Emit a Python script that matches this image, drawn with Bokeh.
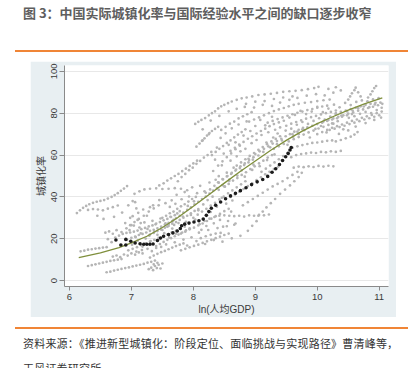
from bokeh.plotting import figure
from bokeh.models import Div
from bokeh.layouts import column
from bokeh.embed import file_html
from bokeh.resources import INLINE

# ---------------- data ----------------
x_ticks = [6, 7, 8, 9, 10, 11]
y_ticks = [0, 20, 40, 60, 80, 100]

# fitted international curve
fit_x = [6.15, 6.5, 6.8, 7.0, 7.25, 7.5, 7.75, 8.0, 8.25, 8.5, 8.75, 9.0, 9.25,
         9.5, 9.75, 10.0, 10.25, 10.5, 10.75, 11.05]
fit_y = [11.0, 13.3, 15.8, 18.0, 21.2, 25.4, 30.2, 35.5, 41.0, 46.6, 52.0, 57.2,
         62.3, 67.0, 71.3, 75.0, 78.3, 81.5, 84.3, 87.3]

# China
china_x = [6.75, 6.83, 6.91, 6.91, 6.99, 7.06, 7.14, 7.20, 7.25, 7.30, 7.35, 7.42,
           7.47, 7.52, 7.60, 7.67, 7.74, 7.79, 7.81, 7.86, 7.93, 8.01, 8.09, 8.16,
           8.21, 8.25, 8.29, 8.36, 8.44, 8.52, 8.60, 8.68, 8.76, 8.85, 8.94, 9.03,
           9.12, 9.20, 9.27, 9.33, 9.39, 9.44, 9.49, 9.53, 9.56, 9.58]
china_y = [19.4, 17.0, 19.7, 17.0, 18.8, 18.0, 17.6, 17.4, 17.4, 17.4, 17.5, 19.2,
           20.4, 21.2, 22.0, 22.8, 23.7, 24.9, 26.2, 27.0, 27.5, 28.0, 28.6, 29.4,
           31.2, 33.0, 34.6, 36.0, 37.6, 39.1, 40.5, 41.7, 43.0, 44.4, 45.9, 47.2,
           48.3, 49.8, 51.8, 53.5, 55.5, 57.4, 59.2, 60.8, 62.4, 63.6]

# other countries (x = ln GDP per capita, y = urbanisation rate)
gray_upper_left = [
    (6.12, 32.3), (6.17, 33.6), (6.22, 34.8), (6.27, 35.7), (6.32, 36.5), (6.38, 37.2),
    (6.44, 37.7), (6.50, 38.1), (6.56, 38.5), (6.62, 39.2), (6.68, 40.0), (6.73, 40.9),
    (6.78, 41.8), (6.83, 42.9), (6.88, 44.0), (6.93, 45.2),
    (6.30, 33.8), (6.38, 34.2), (6.46, 34.0), (6.54, 33.6), (6.62, 34.4), (6.70, 35.1),
    (6.78, 35.9),
    (7.05, 41.5), (7.13, 42.7), (7.21, 43.6), (7.30, 43.9), (7.40, 44.1), (7.50, 43.8),
    (7.60, 43.9), (7.70, 44.2), (7.80, 43.9), (7.90, 43.2),
    (6.45, 31.0), (6.55, 29.5), (6.72, 30.5), (6.85, 32.5), (6.95, 36.0), (7.02, 38.0),
    (6.98, 30.0), (7.08, 34.5), (7.15, 27.5), (7.25, 31.0), (7.35, 36.0), (7.45, 38.5),
    (7.55, 37.0), (6.90, 27.5), (7.00, 26.5), (7.10, 29.0), (7.06, 37.5), (7.30, 35.1),
    (6.58, 22.9), (6.64, 23.5), (6.70, 22.4), (6.76, 24.1), (6.84, 23.2), (6.62, 19.8),
    (6.68, 18.4), (6.74, 20.6),
]
gray_upper_fringe = [
    (7.45, 45.5), (7.52, 46.5), (7.58, 47.8), (7.64, 48.9), (7.70, 50.0), (7.76, 51.0),
    (7.82, 52.3), (7.88, 53.5), (7.94, 54.8), (8.00, 56.0), (8.06, 57.3),
    (8.10, 65.5), (8.14, 66.8), (8.18, 68.0), (8.22, 69.3), (8.26, 70.5), (8.30, 71.5),
    (7.75, 47.5), (7.81, 49.5), (7.87, 51.0), (7.93, 52.8), (7.99, 54.0), (8.05, 55.8),
    (8.11, 57.2), (8.17, 58.8), (8.23, 60.0), (8.29, 61.5),
    (8.05, 64.0), (8.15, 67.0), (8.25, 70.0), (8.35, 72.5), (8.40, 73.5),
    (8.40, 55.0), (8.47, 57.0), (8.54, 59.0), (8.61, 60.8), (8.68, 62.8), (8.75, 64.5),
    (8.45, 72.0), (8.52, 73.5), (8.59, 75.0), (8.66, 76.0), (8.73, 77.5), (8.80, 78.5),
    (8.87, 79.5), (8.94, 80.5),
    (8.15, 72.3), (8.28, 76.5), (8.42, 78.7), (8.57, 80.9), (8.70, 82.1), (8.83, 83.0),
    (8.98, 82.7), (9.12, 84.0), (9.27, 83.5), (9.40, 85.1), (9.55, 86.4), (9.68, 87.3),
    (9.83, 88.4), (9.98, 89.1), (10.12, 88.5), (10.26, 89.8), (10.38, 90.9),
    (10.18, 91.6), (10.30, 92.4),
]
gray_top_rows = [
    (8.03, 74.9), (8.08, 75.9), (8.13, 76.8), (8.19, 77.7), (8.25, 79.0), (8.30, 80.0),
    (8.35, 80.9), (8.40, 82.3), (8.45, 83.3), (8.50, 84.0), (8.56, 84.8), (8.62, 85.6),
    (8.70, 86.4), (8.78, 87.1), (8.86, 87.5), (8.95, 88.0), (9.05, 88.7), (9.15, 89.0),
    (9.25, 89.3), (9.35, 89.7), (9.45, 90.2), (9.55, 90.5), (9.65, 90.7), (9.75, 91.0),
    (9.85, 91.5), (9.95, 92.0), (10.02, 92.6),
    (8.85, 84.5), (9.00, 85.5), (9.15, 85.8), (9.30, 86.8), (9.45, 87.5), (9.60, 88.0),
    (10.50, 86.5), (10.53, 88.0), (10.56, 89.5), (10.60, 91.0), (10.62, 92.2),
    (10.66, 90.0), (10.70, 88.0),
    (10.82, 87.5), (10.86, 89.0), (10.89, 90.5), (10.92, 92.0), (10.95, 93.0),
]
gray_band_low = [
    (6.80, 21.5), (6.86, 22.3), (6.92, 22.8), (6.98, 23.0), (7.04, 23.4), (7.10, 23.9),
    (7.16, 24.6), (7.22, 25.2), (7.28, 25.9), (7.34, 26.4), (7.40, 27.3), (7.46, 28.0),
    (7.52, 28.8), (7.58, 29.5), (7.64, 30.4), (7.70, 31.3),
    (6.95, 14.5), (7.02, 15.2), (7.09, 16.0), (7.16, 16.9), (7.23, 17.8), (7.30, 18.6),
    (7.37, 19.5), (7.44, 20.4), (7.51, 21.1), (7.58, 22.0), (7.65, 23.0), (7.72, 23.8),
    (7.79, 24.9), (7.86, 25.8),
    (7.30, 22.0), (7.36, 22.8), (7.42, 23.7), (7.48, 24.4), (7.54, 25.3), (7.60, 26.1),
    (7.66, 27.2), (7.72, 28.0), (7.78, 29.0), (7.84, 30.1), (7.90, 31.0), (7.96, 32.2),
    (8.02, 33.3), (8.08, 34.2),
    (7.60, 27.0), (7.66, 28.3), (7.72, 29.8), (7.78, 31.0), (7.84, 32.5), (7.90, 33.8),
    (7.96, 35.0), (8.02, 36.5), (8.08, 37.7), (8.14, 39.0), (8.20, 40.2), (8.26, 41.6),
    (8.32, 43.0), (8.38, 44.2),
    (7.80, 22.5), (7.87, 23.4), (7.94, 24.5), (8.01, 25.3), (8.08, 26.4), (8.15, 27.3),
    (8.22, 28.5), (8.29, 29.6), (8.36, 30.8), (8.43, 31.9), (8.50, 33.2), (8.57, 34.3),
    (8.00, 30.0), (8.07, 31.5), (8.14, 33.0), (8.21, 34.3), (8.28, 35.8), (8.35, 37.2),
    (8.42, 38.8), (8.49, 40.1), (8.56, 41.7), (8.63, 43.1), (8.70, 44.6), (8.77, 46.0),
    (8.84, 47.5),
    (8.20, 42.0), (8.27, 43.6), (8.34, 45.3), (8.41, 46.8), (8.48, 48.4), (8.55, 50.0),
    (8.62, 51.5), (8.69, 53.1), (8.76, 54.6), (8.83, 56.0), (8.90, 57.6), (8.97, 59.0),
    (8.50, 45.0), (8.57, 46.2), (8.64, 47.8), (8.71, 49.0), (8.78, 50.5), (8.85, 51.8),
    (8.92, 53.3), (8.99, 54.6), (9.06, 56.0), (9.13, 57.3), (9.20, 58.8), (9.27, 60.0),
]
gray_band_high = [
    (8.70, 55.0), (8.77, 56.5), (8.84, 58.0), (8.91, 59.6), (8.98, 61.0), (9.05, 62.5),
    (9.12, 63.8), (9.19, 65.2), (9.26, 66.5), (9.33, 67.7), (9.40, 69.0),
    (9.00, 60.5), (9.07, 61.8), (9.14, 63.0), (9.21, 64.2), (9.28, 65.5), (9.35, 66.7),
    (9.42, 67.8), (9.49, 69.0), (9.56, 70.0), (9.63, 71.2), (9.70, 72.1), (9.77, 73.0),
    (9.30, 63.0), (9.38, 64.2), (9.46, 65.3), (9.54, 66.5), (9.62, 67.6), (9.70, 68.6),
    (9.78, 69.8), (9.86, 70.8), (9.94, 71.7), (10.02, 72.7), (10.10, 73.5), (10.18, 74.4),
    (10.26, 75.0),
    (9.60, 70.0), (9.68, 71.2), (9.76, 72.3), (9.84, 73.2), (9.92, 74.0), (10.00, 74.8),
    (10.08, 75.5), (10.16, 76.3), (10.24, 77.0), (10.32, 77.6), (10.40, 78.3),
    (10.48, 79.0), (10.56, 79.6),
    (10.00, 70.0), (10.08, 71.0), (10.16, 72.0), (10.24, 73.0), (10.32, 73.8),
    (10.40, 74.6), (10.48, 75.5), (10.56, 76.3), (10.64, 77.0), (10.72, 77.8),
    (10.80, 78.5), (10.88, 79.2), (10.96, 80.0), (11.04, 80.8),
    (10.10, 76.0), (10.18, 76.8), (10.26, 77.5), (10.34, 78.3), (10.42, 79.0),
    (10.50, 79.8), (10.58, 80.4), (10.66, 81.2), (10.74, 81.8), (10.82, 82.5),
    (10.90, 83.1), (10.98, 83.8), (11.05, 84.5),
    (10.30, 80.0), (10.38, 80.6), (10.46, 81.3), (10.54, 82.0), (10.62, 82.6),
    (10.70, 83.3), (10.78, 84.0), (10.86, 84.5), (10.94, 85.0),
    (10.20, 72.0), (10.28, 72.6), (10.36, 73.4), (10.44, 74.0), (10.52, 74.8),
    (10.60, 75.5), (10.68, 76.2), (10.76, 77.0), (10.84, 77.6), (10.92, 78.3), (11.00, 79.0),
]
gray_band_upper = [
    (8.60, 62.0), (8.67, 63.5), (8.74, 65.0), (8.81, 66.3), (8.88, 67.8), (8.95, 69.0),
    (9.02, 70.3), (9.09, 71.5), (9.16, 72.6), (9.23, 73.8), (9.30, 74.8),
    (8.30, 60.0), (8.36, 61.5), (8.42, 63.0), (8.48, 64.3), (8.54, 65.8), (8.60, 67.0),
    (8.66, 68.5), (8.72, 69.8), (8.78, 71.0), (8.84, 72.3),
    (9.20, 75.5), (9.28, 76.3), (9.36, 77.2), (9.44, 78.0), (9.52, 78.8), (9.60, 79.5),
    (9.68, 80.2), (9.76, 80.8), (9.84, 81.5), (9.92, 82.0), (10.00, 82.6), (10.08, 83.2),
    (10.16, 83.6),
    (9.50, 74.0), (9.58, 75.0), (9.66, 75.8), (9.74, 76.6), (9.82, 77.4), (9.90, 78.1),
    (9.98, 78.7), (10.06, 79.4), (10.14, 80.0), (10.22, 80.6), (10.30, 81.3),
    (8.90, 76.0), (8.98, 77.0), (9.06, 78.0), (9.14, 79.0), (9.22, 80.0), (9.30, 81.0),
    (9.38, 81.8), (9.46, 82.5), (9.54, 83.3), (9.62, 84.0),
    (9.70, 84.5), (9.80, 85.0), (9.90, 85.3), (10.00, 85.8), (10.10, 86.2), (10.20, 86.5),
]
gray_lower_left = [
    (6.60, 4.0), (6.66, 4.3), (6.72, 4.8), (6.78, 5.2), (6.84, 5.6), (6.90, 6.0),
    (6.96, 6.3), (7.02, 6.8), (7.08, 7.2), (7.14, 7.6), (7.20, 8.0), (7.26, 8.6),
    (7.32, 9.0), (7.38, 9.6),
    (6.30, 7.0), (6.36, 7.4), (6.42, 7.8), (6.48, 8.2), (6.54, 8.6), (6.60, 9.0),
    (6.66, 9.4), (6.72, 9.7), (6.78, 10.0), (6.84, 10.3),
    (7.28, 5.5), (7.32, 6.2), (7.35, 5.0), (7.38, 7.0), (7.41, 6.0), (7.44, 7.6),
    (7.47, 5.8), (7.50, 8.2), (7.42, 8.5), (7.36, 7.8),
    (6.18, 14.0), (6.24, 14.3), (6.30, 14.8), (6.36, 15.0), (6.42, 15.3), (6.48, 15.5),
    (6.54, 15.8), (6.60, 16.0),
    (6.70, 11.5), (6.76, 12.0), (6.82, 11.2), (6.88, 12.5), (6.94, 12.0), (7.00, 13.0),
    (7.06, 12.4), (7.12, 13.5), (7.18, 13.0),
    (7.30, 11.0), (7.36, 12.0), (7.42, 12.8), (7.48, 13.6), (7.54, 14.2), (7.60, 15.0),
    (7.66, 15.8), (7.72, 16.5), (7.78, 17.2), (7.84, 17.8),
]
gray_lower_mid = [
    (7.80, 14.5), (7.87, 15.2), (7.94, 15.9), (8.01, 16.6), (8.08, 17.2), (8.15, 18.0),
    (8.22, 18.8), (8.29, 19.5), (8.36, 20.3), (8.43, 21.0), (8.50, 21.8), (8.57, 22.5),
    (8.10, 27.0), (8.18, 28.5), (8.26, 29.6), (8.34, 30.4), (8.42, 31.0), (8.50, 31.2),
    (8.58, 31.0), (8.66, 30.8), (8.74, 31.0), (8.82, 30.6), (8.90, 31.2), (8.98, 31.0),
    (9.06, 31.4), (9.14, 31.2), (9.22, 31.6),
    (8.12, 20.3), (8.20, 21.2), (8.28, 21.9), (8.36, 22.5), (8.44, 22.8),
    (7.00, 20.5), (7.06, 21.0), (7.12, 21.8), (7.18, 22.3), (7.24, 23.0), (7.30, 23.8),
    (7.36, 24.3), (7.42, 25.0), (7.48, 25.8), (7.54, 26.8), (7.60, 27.6), (7.66, 28.5),
    (7.40, 16.5), (7.46, 17.5), (7.52, 18.5), (7.58, 19.5), (7.64, 20.3), (7.70, 21.2),
    (7.76, 22.0), (7.82, 23.0), (7.88, 24.0), (7.94, 25.0),
    (7.50, 30.0), (7.56, 31.0), (7.62, 32.2), (7.68, 33.0), (7.74, 34.3), (7.80, 35.5),
    (7.86, 36.5), (7.92, 37.8), (7.98, 39.0), (8.04, 40.0),
    (6.92, 25.0), (6.98, 26.5), (7.05, 28.0), (7.12, 29.5), (7.20, 31.0), (7.28, 33.0),
    (7.36, 34.5), (7.44, 36.0),
    (8.40, 47.0), (8.47, 48.5), (8.54, 49.8), (8.61, 51.0), (8.68, 52.6), (8.75, 53.8),
    (8.82, 55.2), (8.89, 56.5), (8.96, 57.8),
    (8.60, 40.0), (8.67, 41.2), (8.74, 42.5), (8.81, 43.8), (8.88, 45.2), (8.95, 46.5),
    (9.02, 48.0), (9.09, 49.4), (9.16, 50.8), (9.23, 52.0), (9.30, 53.3), (9.37, 54.5),
    (9.10, 52.0), (9.17, 53.5), (9.24, 55.0), (9.31, 56.5), (9.38, 58.0), (9.45, 59.5),
    (9.52, 61.0),
]
gray_lower_right = [
    (9.05, 31.0), (9.12, 33.0), (9.18, 35.0), (9.25, 37.0), (9.32, 39.0), (9.40, 41.5),
    (9.48, 43.5), (9.56, 45.5), (9.63, 47.5), (9.70, 49.5), (9.75, 51.5),
    (8.80, 36.0), (8.88, 37.5), (8.96, 39.0), (9.04, 40.5), (9.12, 42.0), (9.20, 43.5),
    (9.28, 45.0), (9.36, 46.2), (9.44, 47.5), (9.52, 49.0), (9.60, 50.5), (9.68, 52.0),
    (9.62, 54.0), (9.70, 54.5), (9.78, 54.2), (9.86, 54.6), (9.94, 54.3), (10.02, 54.8),
    (10.10, 54.5), (10.18, 54.9), (10.26, 54.6),
    (9.58, 59.0), (9.66, 60.0), (9.74, 60.5), (9.82, 60.8), (9.90, 61.2), (9.98, 61.0),
    (10.06, 61.5), (10.14, 61.3), (10.22, 61.8), (10.30, 61.5), (10.38, 62.0),
    (9.60, 63.5), (9.68, 64.2), (9.76, 64.8), (9.84, 65.3), (9.92, 65.8), (10.00, 66.0),
    (10.08, 66.4), (10.16, 66.8), (10.24, 67.0),
    (10.30, 66.5), (10.38, 67.2), (10.46, 68.0), (10.54, 68.8), (10.60, 69.8), (10.65, 71.0),
]
gray_cloud_left = [
    (6.93, 19.5), (6.97, 24.1), (7.01, 17.2), (7.04, 26.3), (7.07, 20.8), (7.10, 19.1),
    (7.13, 25.4), (7.15, 22.6), (7.18, 16.3), (7.21, 27.8), (7.23, 20.1), (7.26, 24.7),
    (7.29, 21.5), (7.31, 18.9), (7.34, 28.6), (7.37, 23.4), (7.39, 26.9), (7.42, 21.9),
    (7.45, 19.8), (7.47, 29.7), (7.50, 24.2), (7.53, 22.7), (7.55, 27.4), (7.58, 25.8),
    (7.61, 20.6), (7.63, 30.5), (7.66, 24.9), (7.69, 26.6), (7.72, 22.4), (7.74, 32.1),
    (7.26, 15.2), (7.33, 14.1), (7.40, 15.6), (7.48, 16.1), (7.56, 17.3), (7.08, 13.9),
    (7.17, 14.6), (7.02, 30.8), (7.11, 32.4), (7.19, 34.0),
]
gray_cloud_mid = [
    (7.62, 35.2), (7.65, 38.4), (7.68, 29.1), (7.71, 36.7), (7.73, 41.0), (7.76, 27.5),
    (7.78, 33.2), (7.81, 38.9), (7.83, 30.6), (7.86, 42.3), (7.88, 28.1), (7.91, 35.7),
    (7.93, 40.2), (7.96, 31.4), (7.98, 44.6), (8.01, 37.9), (8.03, 29.2), (8.06, 41.8),
    (8.08, 33.6), (8.11, 45.3), (8.13, 24.3), (8.16, 36.4), (8.18, 42.7), (8.21, 26.1),
    (8.23, 38.5), (8.26, 46.9), (8.28, 32.8), (8.31, 40.1), (8.33, 27.4), (8.36, 48.2),
    (8.38, 35.3), (8.41, 43.4), (8.43, 29.0), (8.46, 39.6), (8.48, 25.8), (8.51, 44.9),
    (8.53, 36.8), (8.56, 28.5), (8.58, 47.6), (8.61, 33.0), (8.63, 38.3), (8.66, 26.7),
    (7.70, 18.3), (7.84, 19.6), (7.97, 20.7), (8.09, 22.9), (8.24, 24.2), (8.39, 25.1),
    (8.54, 26.0), (8.68, 27.3), (7.90, 16.8), (8.05, 18.9), (8.19, 17.5), (8.33, 19.4),
    (8.47, 18.6), (8.62, 20.2), (8.76, 21.4), (8.88, 23.8), (8.95, 26.2), (9.02, 28.4),
]
gray_cloud_upper = [
    (8.32, 52.4), (8.35, 57.8), (8.38, 63.6), (8.41, 49.9), (8.44, 68.2), (8.46, 55.1),
    (8.49, 60.7), (8.52, 70.4), (8.54, 51.6), (8.57, 64.9), (8.60, 57.3), (8.62, 72.8),
    (8.65, 54.0), (8.68, 66.1), (8.70, 59.4), (8.73, 74.6), (8.76, 61.8), (8.78, 52.7),
    (8.81, 69.3), (8.84, 63.0), (8.86, 76.1), (8.89, 58.2), (8.92, 71.5), (8.94, 65.7),
    (8.97, 55.4), (9.00, 73.9), (9.02, 67.2), (9.05, 59.8), (9.08, 76.8), (9.10, 69.6),
    (9.13, 61.5), (9.16, 74.2), (9.18, 66.0), (9.21, 70.9), (9.24, 63.7), (9.27, 78.3),
    (9.29, 68.4), (9.32, 72.1), (9.35, 65.2), (9.38, 75.6), (8.47, 45.6), (8.58, 48.3),
    (8.71, 50.2), (8.83, 49.7), (8.95, 52.9), (9.07, 54.7), (9.19, 57.6), (9.31, 60.3),
]
gray_cloud_right = [
    (9.36, 70.3), (9.40, 73.2), (9.43, 67.0), (9.46, 76.4), (9.49, 71.7), (9.52, 64.9),
    (9.55, 77.9), (9.58, 72.6), (9.61, 68.8), (9.64, 79.2), (9.67, 74.5), (9.70, 70.0),
    (9.73, 81.1), (9.76, 75.8), (9.79, 71.9), (9.82, 79.6), (9.85, 74.9), (9.88, 68.4),
    (9.91, 80.8), (9.94, 76.3), (9.97, 72.5), (10.00, 83.0), (10.03, 77.6), (10.06, 73.9),
    (10.09, 80.5), (10.12, 76.9), (10.15, 70.8), (10.18, 82.2), (10.21, 78.4),
    (10.24, 75.1), (10.27, 84.1), (10.30, 79.5), (10.33, 76.2), (10.36, 82.8),
    (10.39, 78.9), (10.42, 72.3), (10.45, 84.9), (10.48, 80.9), (10.51, 77.8),
    (10.54, 83.9), (10.57, 81.3), (10.60, 78.6), (10.63, 85.4), (10.66, 82.4),
    (10.69, 79.7), (10.72, 86.1), (10.75, 83.2), (10.78, 80.6), (10.81, 85.7),
    (10.84, 82.9), (10.87, 80.1), (10.90, 86.6), (10.93, 84.2), (10.96, 81.5),
    (10.99, 87.2), (11.02, 85.1), (11.04, 82.6), (10.35, 70.1), (10.50, 71.8),
    (10.62, 73.6), (10.78, 75.3), (10.92, 76.8), (11.03, 77.9),
]

gray_groups = [gray_upper_left, gray_upper_fringe, gray_top_rows, gray_band_low,
               gray_band_high, gray_band_upper, gray_lower_left, gray_lower_mid,
               gray_lower_right, gray_cloud_left, gray_cloud_mid, gray_cloud_upper,
               gray_cloud_right]
gray_x = [pt[0] for g in gray_groups for pt in g]
gray_y = [pt[1] for g in gray_groups for pt in g]

# ---------------- figure ----------------
PANEL = "#e8eff2"
p = figure(width=366, height=256, x_range=(5.92, 11.15), y_range=(-2.8, 102.8),
           output_backend="svg", toolbar_location=None,
           min_border_left=34, min_border_right=8, min_border_top=4, min_border_bottom=28,
           margin=(9, 0, 0, 30))
p.background_fill_color = "white"
p.border_fill_color = PANEL
p.outline_line_color = None

p.scatter(gray_x, gray_y, size=2.7, marker="circle", fill_color="#b5b5b5",
          line_color=None)
p.line(fit_x, fit_y, line_color="#7f8f3c", line_width=1.3)
p.scatter(china_x, china_y, size=3.6, marker="circle", fill_color="#1c1c1c",
          line_color=None)

p.xaxis.ticker = x_ticks
p.yaxis.ticker = y_ticks
p.xgrid.visible = False
p.ygrid.grid_line_color = "#e8e8e8"
p.ygrid.grid_line_width = 1
p.axis.axis_line_color = "#8a8a8a"
p.axis.major_tick_line_color = "#8a8a8a"
p.axis.minor_tick_line_color = None
p.axis.major_tick_in = 0
p.xaxis.major_tick_out = 4
p.yaxis.major_tick_out = 5
p.axis.major_label_text_font = "Liberation Sans"
p.axis.major_label_text_font_size = "9.5px"
p.axis.major_label_text_color = "#3a3a3a"
p.xaxis.major_label_standoff = 3
p.yaxis.major_label_standoff = 2
p.yaxis.major_label_orientation = "vertical"
p.xaxis.axis_label = "ln(人均GDP)"
p.yaxis.axis_label = "城镇化率"
p.axis.axis_label_text_font = "Liberation Sans, Noto Sans CJK SC"
p.axis.axis_label_text_font_size = "10px"
p.axis.axis_label_text_font_style = "normal"
p.axis.axis_label_text_color = "#3a3a3a"
p.xaxis.axis_label_standoff = 1
p.yaxis.axis_label_standoff = 2

# ---------------- page texts ----------------
title = Div(text=('<div style="font-family:\'Noto Sans CJK SC\';font-size:13px;'
                  'font-weight:bold;color:#5e5e5e;line-height:13px;padding-left:8px;'
                  'padding-top:6px;white-space:nowrap;">'
                  '图 3：中国实际城镇化率与国际经验水平之间的缺口逐步收窄</div>'),
            width=393, height=50, margin=(0, 0, 0, 15))
rule1 = Div(text="", width=393, height=2, margin=(0, 0, 0, 15),
            styles={"background-color": "#f08536"})
rule2 = Div(text="", width=393, height=2, margin=(10, 0, 0, 15),
            styles={"background-color": "#f08536"})
source = Div(text=('<div style="font-family:\'Noto Sans CJK SC\';font-size:11px;'
                   'color:#333333;line-height:25px;padding-left:8px;padding-top:0px;'
                   'white-space:nowrap;letter-spacing:0.2px;">'
                   '资料来源：《推进新型城镇化：阶段定位、面临挑战与实现路径》曹清峰等，<br>'
                   '天风证券研究所</div>'),
             width=393, height=39, margin=(2, 0, 0, 15))

layout = column(title, rule1, p, rule2, source, spacing=0)
open("out.html", "w").write(file_html(layout, INLINE))
